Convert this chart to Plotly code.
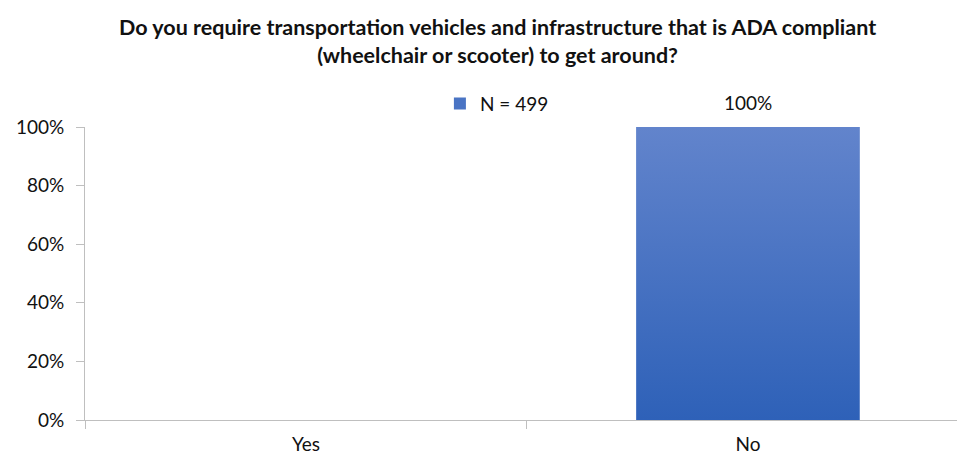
import plotly.graph_objects as go

# survey answer shares
categories = ['Yes', 'No']
shares = [0.0, 1.0]
series_name = 'N = 499'
title_text = ('Do you require transportation vehicles and infrastructure that is ADA compliant<br>'
              '(wheelchair or scooter) to get around?')
y_ticks = [0, 0.2, 0.4, 0.6, 0.8, 1.0]

bar_w = 0.505
top_blue, bottom_blue = '#6284cc', '#2e61b8'
axis_grey = '#bfbfbf'
font = 'Lato'

xs = list(range(len(categories)))
bounds = [i - 0.5 for i in xs]  # tick marks sit between categories, like Excel

traces = [go.Bar(x=xs, y=shares, width=bar_w, name=series_name, marker=dict(color='#4a74c4', line=dict(width=0)),
                 hoverinfo='skip')]
# gradient fill drawn over each bar, built from the same values
for i, v in zip(xs, shares):
    if v <= 0:
        continue
    traces.append(go.Scatter(x=[i - bar_w / 2, i + bar_w / 2, i + bar_w / 2, i - bar_w / 2, i - bar_w / 2],
                             y=[0, 0, v, v, 0], mode='none', fill='toself', showlegend=False, hoverinfo='skip',
                             fillgradient=dict(type='vertical', colorscale=[[0, bottom_blue], [1, top_blue]])))

fig = go.Figure(data=traces)
for i, v in zip(xs, shares):
    if v > 0:
        fig.add_annotation(x=i, y=v, text=f'{v:.0%}', showarrow=False, yanchor='bottom', yshift=11,
                           font=dict(family=font, size=19, color='#111111'))

x_range = [-0.5, 1.473]
fig.update_layout(
    width=957, height=460, margin=dict(l=85, r=0, t=127, b=40),
    paper_bgcolor='white', plot_bgcolor='white',
    font=dict(family=font, size=19, color='#111111'),
    title=dict(text=title_text, xref='container', x=0.52, xanchor='center', yref='container', y=0.923,
               yanchor='middle', font=dict(family=font, size=21.5, color='#111111', weight='bold')),
    showlegend=True,
    legend=dict(orientation='h', x=0.407, xanchor='left', y=1.08, yanchor='middle', bgcolor='rgba(0,0,0,0)',
                font=dict(family=font, size=19)),
    xaxis=dict(range=x_range, tickvals=bounds, ticktext=['' for _ in bounds], ticks='outside', ticklen=8,
               tickcolor=axis_grey, showgrid=False, zeroline=False, showline=True, linecolor=axis_grey, linewidth=1,
               automargin=False),
    # category names on an overlaid axis so they sit under the bars, not under the tick marks
    xaxis2=dict(range=x_range, overlaying='x', side='bottom', anchor='y', tickvals=xs, ticktext=categories,
                ticks='', showgrid=False, zeroline=False, showline=False, ticklabelstandoff=11, automargin=False),
    yaxis=dict(range=[0, 1], tickvals=y_ticks, tickformat='.0%', ticks='outside', ticklen=8, tickcolor=axis_grey,
               showgrid=False, zeroline=False, showline=True, linecolor=axis_grey, linewidth=1,
               ticklabelstandoff=8, automargin=False),
)
# invisible helper so the overlaid label axis is drawn
fig.add_trace(go.Scatter(x=[], y=[], xaxis='x2', showlegend=False, hoverinfo='skip'))

# drop the browser's default body margin so the figure sits at the window's corner
fig.write_html('out.html', config={'displayModeBar': False},
               post_script="document.body.style.margin='0';document.body.style.overflow='hidden';")
